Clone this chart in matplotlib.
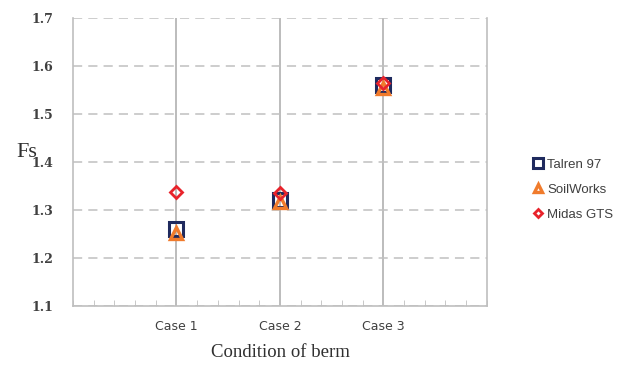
import matplotlib.pyplot as plt
import numpy as np

cases = ['Case 1', 'Case 2', 'Case 3']
talren = [1.260, 1.320, 1.560]
soilworks = [1.253, 1.316, 1.554]
midas = [1.338, 1.336, 1.564]

fig = plt.figure(figsize=(6.17, 3.67), dpi=100)
ax = fig.add_axes([0.1183, 0.1662, 0.6707, 0.7848])

x = np.arange(1, len(cases) + 1)
ax.plot(x, talren, 's', ms=10, mfc='none', mec='#1f2a5e', mew=2.2, label='Talren 97', zorder=3)
ax.plot(x, soilworks, '^', ms=8, mfc='none', mec='#f07b2c', mew=2.4, label='SoilWorks', zorder=4)
ax.plot(x, midas, 'D', ms=6, mfc='none', mec='#e8232b', mew=2.0, label='Midas GTS', zorder=5)

ax.set_xlim(0, 4)
ax.set_ylim(1.1, 1.7)
ax.set_xticks(x)
ax.set_xticklabels(cases, family='DejaVu Sans', fontsize=9, color='#404040')
ax.set_xticks(np.arange(0, 4.01, 0.2), minor=True)
ax.set_yticks(np.arange(1.1, 1.71, 0.1))
ax.set_yticklabels(['%.1f' % v for v in np.arange(1.1, 1.71, 0.1)],
                   family='DejaVu Serif', fontsize=9, color='#404040', fontweight='semibold')
ax.tick_params(axis='x', which='major', length=0, pad=10)
ax.tick_params(axis='x', which='minor', direction='in', length=4, color='#bfbfbf')
ax.tick_params(axis='y', length=0, pad=14)

ax.grid(axis='y', color='#c0c0c0', ls=(0, (6, 4)), lw=1.1)
ax.grid(axis='x', which='major', color='#b0b0b0', ls='-', lw=1.2)
for s in ['left', 'right', 'bottom']:
    ax.spines[s].set_color('#bfbfbf')
    ax.spines[s].set_linewidth(1.2)
ax.spines['top'].set_visible(False)
ax.set_axisbelow(True)

fig.text(0.026, 0.585, 'Fs', family='Liberation Serif', fontsize=16, color='#303030', va='center')
fig.text(0.455, 0.04, 'Condition of berm', family='Liberation Serif', fontsize=13.5,
         color='#303030', ha='center', va='center')

fig.legend(loc='center left', bbox_to_anchor=(0.853, 0.483), frameon=False,
           prop={'family': 'Liberation Sans', 'size': 9.5}, labelcolor='#404040',
           handletextpad=0.3, labelspacing=0.95,
           handlelength=0.9, borderaxespad=0, markerscale=0.75)

fig.savefig('out.png')
